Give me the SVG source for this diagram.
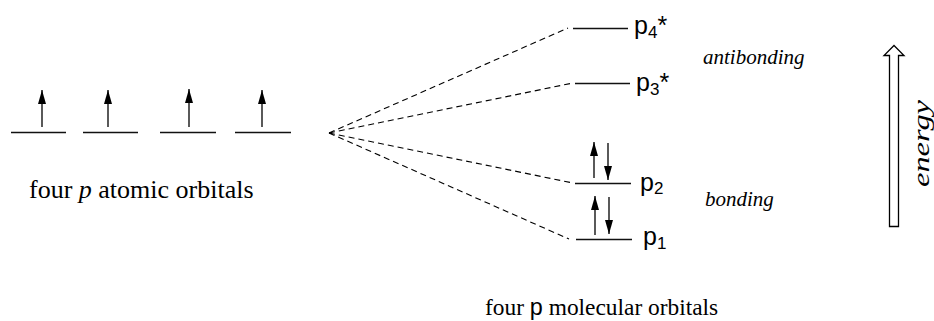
<svg xmlns="http://www.w3.org/2000/svg" width="934" height="321" viewBox="0 0 934 321">
<style>
.lvl{stroke:#111;stroke-width:1.3;fill:none}
.spin{stroke:#000;stroke-width:1.3;fill:none}
.dash{stroke:#000;stroke-width:1.1;fill:none;stroke-dasharray:6 4}
.serif{font-family:"Liberation Serif","Times New Roman",serif;fill:#000}
.sans{font-family:"Liberation Sans",Arial,sans-serif;fill:#000}
.ital{font-family:"Liberation Serif","Times New Roman",serif;font-style:italic;fill:#000}
</style>
<defs>
<marker id="ah" markerUnits="userSpaceOnUse" markerWidth="15" markerHeight="10" refX="14" refY="5" orient="auto">
<path d="M0,1 L14,5 L0,9 z" fill="#000"/>
</marker>
</defs>
<rect width="934" height="321" fill="#fff"/>
<g id="ao1"><line class="lvl" x1="11" y1="132.5" x2="66" y2="132.5"/><line class="spin" x1="42" y1="127" x2="42" y2="90" marker-end="url(#ah)"/></g>
<g id="ao2"><line class="lvl" x1="83" y1="132.5" x2="138" y2="132.5"/><line class="spin" x1="108" y1="127" x2="108" y2="90" marker-end="url(#ah)"/></g>
<g id="ao3"><line class="lvl" x1="160" y1="132.5" x2="216" y2="132.5"/><line class="spin" x1="189" y1="127" x2="189" y2="89" marker-end="url(#ah)"/></g>
<g id="ao4"><line class="lvl" x1="235" y1="132.5" x2="291" y2="132.5"/><line class="spin" x1="262" y1="127" x2="262" y2="90" marker-end="url(#ah)"/></g>
<g id="ao-label"><text class="serif" x="29" y="198" font-size="26">four <tspan font-style="italic">p</tspan> atomic orbitals</text></g>
<g id="connectors">
<line class="dash" x1="329" y1="133" x2="568" y2="28"/>
<line class="dash" x1="329" y1="133" x2="573" y2="83"/>
<line class="dash" x1="329" y1="133" x2="573" y2="183"/>
<line class="dash" x1="329" y1="133" x2="569" y2="239"/>
</g>
<g id="mo4"><line class="lvl" x1="573" y1="28.5" x2="628" y2="28.5"/><text class="sans" x="634" y="34" font-size="25">p<tspan font-size="17" dy="4">4</tspan><tspan dy="-4">*</tspan></text></g>
<g id="mo3"><line class="lvl" x1="575" y1="83.5" x2="630" y2="83.5"/><text class="sans" x="636" y="91" font-size="25">p<tspan font-size="17" dy="4">3</tspan><tspan dy="-4">*</tspan></text></g>
<g id="mo2"><line class="lvl" x1="575" y1="183.5" x2="631" y2="183.5"/><line class="spin" x1="594" y1="178" x2="594" y2="142" marker-end="url(#ah)"/><line class="spin" x1="608" y1="143" x2="608" y2="180" marker-end="url(#ah)"/><text class="sans" x="640" y="191" font-size="25">p<tspan font-size="17" dy="3">2</tspan></text></g>
<g id="mo1"><line class="lvl" x1="576" y1="239.5" x2="632" y2="239.5"/><line class="spin" x1="595" y1="235" x2="595" y2="196" marker-end="url(#ah)"/><line class="spin" x1="609" y1="197" x2="609" y2="234" marker-end="url(#ah)"/><text class="sans" x="643" y="245" font-size="25">p<tspan font-size="17" dy="4">1</tspan></text></g>
<g id="antibonding"><text class="ital" x="703" y="64" font-size="21">antibonding</text></g>
<g id="bonding"><text class="ital" x="705" y="206" font-size="21">bonding</text></g>
<g id="energy-arrow"><polygon points="889.5,226.5 898.5,226.5 898.5,55.5 904,55.5 894,45.5 884,55.5 889.5,55.5" fill="#fff" stroke="#000" stroke-width="1.3"/></g>
<g id="energy-label"><text class="ital" transform="translate(929,187) rotate(-90)" font-size="24" textLength="87" lengthAdjust="spacingAndGlyphs">energy</text></g>
<g id="mo-label"><text class="serif" x="485" y="315" font-size="23.4">four <tspan class="sans">p</tspan> molecular orbitals</text></g>
</svg>
